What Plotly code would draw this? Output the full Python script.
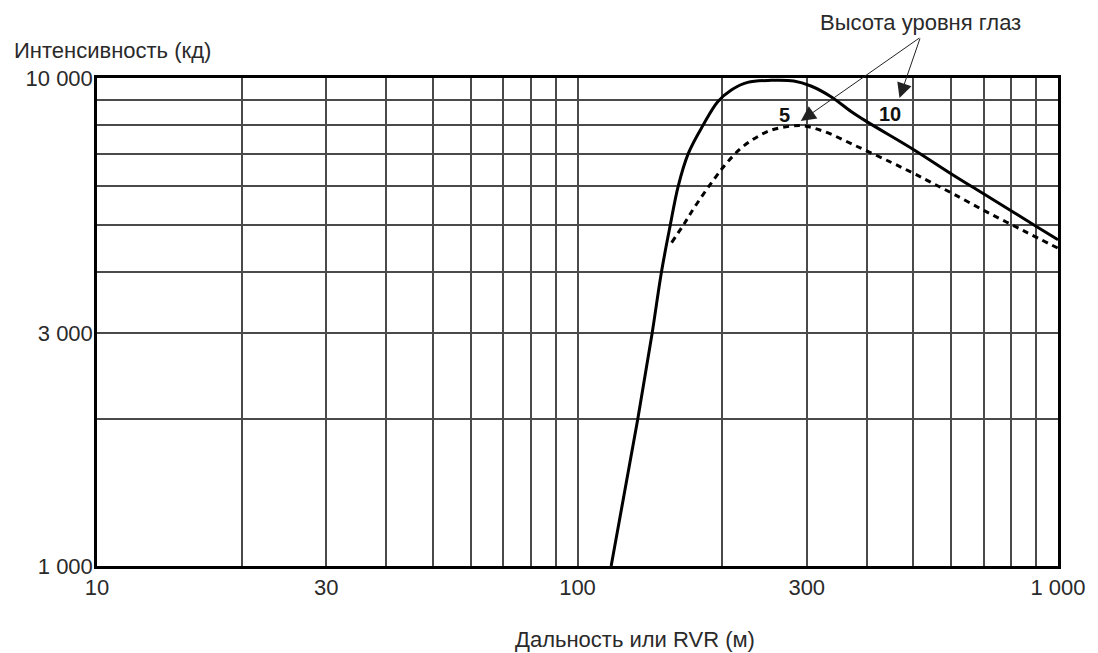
import plotly.graph_objects as go

# ---- data ----
solid_x = [117.5, 133.5, 143, 149.5, 156, 162, 170, 182.5, 196, 209, 226, 253, 282, 306, 337, 371, 400, 500, 600, 700, 800, 900, 1000]
solid_y = [1000, 2000, 3000, 4000, 5000, 6000, 7000, 8000, 8950, 9450, 9795, 9890, 9860, 9630, 9156, 8540, 8140, 7140, 6360, 5790, 5340, 4970, 4660]

dash_x = [157, 167, 175.5, 193, 204, 217.5, 233.7, 253, 276, 295, 326, 383, 449, 500, 543, 608, 712, 849, 1000]
dash_y = [4600, 5040, 5450, 6230, 6680, 7140, 7520, 7820, 7960, 7980, 7770, 7230, 6720, 6380, 6117, 5775, 5310, 4860, 4480]

x_grid = [10, 20, 30, 40, 50, 60, 70, 80, 90, 100, 200, 300, 400, 500, 600, 700, 800, 900, 1000]
x_labels = ["10", "", "30", "", "", "", "", "", "", "100", "", "300", "", "", "", "", "", "", "1 000"]
y_grid = [1000, 2000, 3000, 4000, 5000, 6000, 7000, 8000, 9000, 10000]
y_labels = ["1 000", "", "3 000", "", "", "", "", "", "", "10 000"]

FONT = "Liberation Sans, Arial, sans-serif"
TXT = "#2a2a2a"
FS = 22

# page has an 8px body margin; plot area target: x 97..1061, y 78..566 in window pixels
OFF = 8
L, T, PW, PH = 97 - OFF, 78 - OFF, 964, 488
W, H = 1098 - OFF, 653 - OFF

fig = go.Figure()
fig.add_trace(go.Scatter(x=solid_x, y=solid_y, mode="lines",
                         line=dict(color="black", width=3, shape="spline", smoothing=1.0),
                         showlegend=False, hoverinfo="skip"))
fig.add_trace(go.Scatter(x=dash_x, y=dash_y, mode="lines",
                         line=dict(color="black", width=3, dash="6px,5px", shape="spline", smoothing=1.0),
                         showlegend=False, hoverinfo="skip"))

fig.update_layout(
    width=W, height=H,
    margin=dict(l=L, r=W - L - PW, t=T, b=H - T - PH, pad=0),
    paper_bgcolor="white", plot_bgcolor="white",
    font=dict(family=FONT, size=FS, color=TXT),
    xaxis=dict(type="log", range=[1, 3], tickvals=x_grid, ticktext=x_labels,
               showgrid=True, gridcolor="#4a4a4a", gridwidth=1.7,
               showline=True, linecolor="black", linewidth=2.5, mirror=True,
               ticks="", tickfont=dict(size=FS, color=TXT), zeroline=False),
    yaxis=dict(type="log", range=[3, 4], tickvals=y_grid, ticktext=y_labels,
               showgrid=True, gridcolor="#4a4a4a", gridwidth=1.7,
               showline=True, linecolor="black", linewidth=2.5, mirror=True,
               ticks="", tickfont=dict(size=FS, color=TXT), zeroline=False,
               ticklabelstandoff=-3),
)

def px2paper(px, py):
    return (px - 97) / PW, (566 - py) / PH

ann = []
x0, y0 = px2paper(12, 50)
ann.append(dict(x=x0, y=y0, xref="paper", yref="paper", text="Интенсивность (кд)",
                showarrow=False, xanchor="left", yanchor="middle", font=dict(size=FS, color=TXT)))
x0, y0 = px2paper(637, 639)
ann.append(dict(x=x0, y=y0, xref="paper", yref="paper", text="Дальность или RVR (м)",
                showarrow=False, xanchor="center", yanchor="middle", font=dict(size=FS, color=TXT)))
x0, y0 = px2paper(923, 22)
ann.append(dict(x=x0, y=y0, xref="paper", yref="paper", text="Высота уровня глаз",
                showarrow=False, xanchor="center", yanchor="middle", font=dict(size=FS, color=TXT)))
for hx, hy in [(803, 121), (902, 98)]:
    x0, y0 = px2paper(hx, hy)
    ann.append(dict(x=x0, y=y0, xref="paper", yref="paper", text="", showarrow=True,
                    ax=923 - hx, ay=37 - hy, arrowhead=2, arrowsize=3, arrowwidth=1.0,
                    arrowcolor="#222"))
for t, lx, ly in [("5", 787, 115), ("10", 892, 114)]:
    x0, y0 = px2paper(lx, ly)
    ann.append(dict(x=x0, y=y0, xref="paper", yref="paper", text="<b>" + t + "</b>",
                    showarrow=False, xanchor="center", yanchor="middle",
                    font=dict(size=20, color="#111")))
fig.update_layout(annotations=ann)

fig.write_html("out.html")
